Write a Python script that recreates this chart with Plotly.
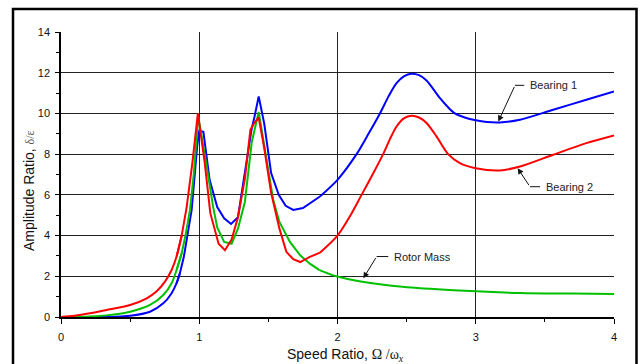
import plotly.graph_objects as go

# ---------------- data ----------------
b1_x = [0, 0.2, 0.33, 0.5, 0.644, 0.74, 0.8, 0.836, 0.86, 0.889, 0.916, 0.945, 0.97, 0.985, 1.0, 1.03,
        1.075, 1.13, 1.18, 1.23, 1.28, 1.33, 1.378, 1.40, 1.43, 1.47, 1.52, 1.575, 1.625, 1.68, 1.75,
        1.873, 2.0, 2.138, 2.22, 2.307, 2.37, 2.427, 2.48, 2.535, 2.59, 2.644, 2.69, 2.74, 2.8, 2.849,
        2.92, 3.0, 3.08, 3.174, 3.32, 3.56, 3.80, 4.0]
b1_y = [0, 0.0, 0.0, 0.06, 0.26, 0.67, 1.17, 1.66, 2.15, 2.97, 4.0, 5.26, 7.2, 8.4, 9.15, 9.1,
        6.74, 5.4, 4.85, 4.57, 4.9, 7.07, 9.2, 9.85, 10.84, 9.5, 7.07, 6.0, 5.46, 5.26, 5.35,
        5.92, 6.74, 8.0, 8.95, 10.0, 10.85, 11.49, 11.82, 11.95, 11.88, 11.62, 11.22, 10.76, 10.3, 10.0,
        9.8, 9.66, 9.58, 9.56, 9.69, 10.18, 10.67, 11.08]

b2_x = [0, 0.1, 0.21, 0.33, 0.5, 0.62, 0.69, 0.752, 0.8, 0.836, 0.873, 0.909, 0.95, 0.99,
        1.04, 1.08, 1.14, 1.186, 1.234, 1.28, 1.33, 1.37, 1.40, 1.43, 1.47, 1.52, 1.58, 1.63, 1.68,
        1.73, 1.8, 1.873, 2.0, 2.09, 2.174, 2.25, 2.33, 2.38, 2.427, 2.48, 2.535, 2.59, 2.644, 2.716,
        2.80, 2.885, 3.0, 3.174, 3.32, 3.56, 3.80, 4.0]
b2_y = [0, 0.06, 0.18, 0.34, 0.59, 0.92, 1.25, 1.74, 2.31, 2.97, 4.0, 5.4, 7.56, 10.0,
        7.56, 5.1, 3.6, 3.28, 3.8, 4.9, 6.8, 9.2, 9.55, 9.8, 8.3, 6.1, 4.34, 3.2, 2.84,
        2.7, 2.95, 3.16, 4.0, 4.95, 6.0, 6.95, 8.0, 8.75, 9.36, 9.76, 9.89, 9.8, 9.53, 8.87,
        8.0, 7.56, 7.31, 7.2, 7.39, 7.97, 8.54, 8.92]

rm_x = [0, 0.21, 0.33, 0.5, 0.644, 0.74, 0.8, 0.836, 0.873, 0.9, 0.933, 0.96, 0.993,
        1.05, 1.1, 1.13, 1.18, 1.234, 1.28, 1.33, 1.38, 1.43, 1.48, 1.535, 1.58, 1.656, 1.73,
        1.8, 1.87, 1.99, 2.19, 2.47, 2.84, 3.32, 3.7, 4.0]
rm_y = [0, 0.03, 0.08, 0.26, 0.59, 1.08, 1.66, 2.31, 3.13, 4.0, 5.26, 7.0, 9.85,
        7.56, 5.42, 4.4, 3.69, 3.6, 4.34, 5.65, 8.6, 10.07, 8.05, 5.75, 4.67, 3.69, 3.03,
        2.62, 2.3, 2.0, 1.72, 1.48, 1.31, 1.18, 1.15, 1.13]

x_ticks = [0, 1, 2, 3, 4]
y_ticks = [0, 2, 4, 6, 8, 10, 12, 14]

# label annotations: (text, head x, head y, elbow x, elbow y, leg end x)
labels = [
    ("Bearing 1", 3.163, 9.6, 3.284, 11.38, 3.351),
    ("Bearing 2", 3.303, 7.31, 3.392, 6.40, 3.465),
    ("Rotor Mass", 2.187, 1.9, 2.283, 2.97, 2.367),
]

FONT = "Arial, Liberation Sans, Helvetica, sans-serif"
SERIF = "Times New Roman, Liberation Serif, serif"


def add_series(fig, xs, ys, color, name):
    # smooth low-speed rise, straight segments through the sharp peaks, smooth high-speed part
    lo, hi = 0.86, 1.86
    seg1 = [(x, y) for x, y in zip(xs, ys) if x <= lo + 0.02]
    seg2 = [(x, y) for x, y in zip(xs, ys) if lo - 0.03 <= x <= hi + 0.02]
    seg3 = [(x, y) for x, y in zip(xs, ys) if x >= hi - 0.01]
    for seg, shape in ((seg1, "spline"), (seg2, "linear"), (seg3, "spline")):
        fig.add_trace(go.Scatter(x=[p[0] for p in seg], y=[p[1] for p in seg], mode="lines",
                                 line=dict(color=color, width=2, shape=shape, smoothing=0.8),
                                 name=name, showlegend=False))


fig = go.Figure()
add_series(fig, b1_x, b1_y, "#0000FF", "Bearing 1")
add_series(fig, rm_x, rm_y, "#00C000", "Rotor Mass")
add_series(fig, b2_x, b2_y, "#FF0000", "Bearing 2")

annotations = []
shapes = []
for text, hx, hy, ex, ey, lx in labels:
    annotations.append(dict(x=hx, y=hy, ax=ex, ay=ey, xref="x", yref="y", axref="x", ayref="y",
                            text="", showarrow=True, arrowhead=2, arrowsize=1.2, arrowwidth=1,
                            arrowcolor="#111"))
    shapes.append(dict(type="line", xref="x", yref="y", x0=ex, y0=ey, x1=lx, y1=ey,
                       line=dict(color="#111", width=1)))
    annotations.append(dict(x=lx + 0.03, y=ey, xref="x", yref="y", text=text, showarrow=False,
                            xanchor="left", yanchor="middle", font=dict(family=FONT, size=11, color="#222")))

# axis titles
annotations.append(dict(
    x=(345 - 61) / 553, y=(317 - 355) / 285, xref="paper", yref="paper",
    text=f"Speed Ratio, <span style='font-family:{SERIF}; font-size:14px'>Ω /ω<sub><i>x</i></sub></span>",
    showarrow=False, xanchor="center", yanchor="middle", font=dict(family=FONT, size=14, color="#111")))
annotations.append(dict(
    x=(29 - 61) / 553, y=(317 - 191) / 285, xref="paper", yref="paper", textangle=-90,
    text=f"Amplitude Ratio, <span style='font-family:{SERIF}; font-size:12px; fill:#555'>δ/ε</span>",
    showarrow=False, xanchor="center", yanchor="middle", font=dict(family=FONT, size=14, color="#111")))

# outer frame
shapes.append(dict(type="rect", xref="paper", yref="paper",
                   x0=(13 - 61) / 553, x1=(636.5 - 61) / 553, y0=(317 - 380) / 285, y1=(317 - 9) / 285,
                   line=dict(color="#000", width=2.5), fillcolor="rgba(0,0,0,0)", layer="above"))

fig.update_layout(
    width=640, height=364,
    margin=dict(l=61, r=26, t=32, b=47),
    paper_bgcolor="white", plot_bgcolor="white",
    showlegend=False,
    font=dict(family=FONT, size=11, color="#111"),
    annotations=annotations, shapes=shapes,
)
fig.update_xaxes(range=[0, 4], tickvals=x_ticks, ticktext=[str(v) for v in x_ticks],
                 showgrid=True, gridcolor="#222", gridwidth=1,
                 showline=True, linecolor="#000", linewidth=1.5, mirror=False,
                 ticks="outside", ticklen=5, tickcolor="#000", ticklabelstandoff=4,
                 minor=dict(dtick=0.5, tick0=0, ticks="outside", ticklen=3, tickcolor="#000", showgrid=False),
                 zeroline=False, tickfont=dict(size=11, color="#111"))
fig.update_yaxes(range=[0, 14], tickvals=y_ticks, ticktext=[str(v) for v in y_ticks],
                 showgrid=True, gridcolor="#222", gridwidth=1,
                 showline=True, linecolor="#000", linewidth=1.5, mirror=False,
                 ticks="outside", ticklen=4, tickcolor="#000", ticklabelstandoff=3,
                 minor=dict(dtick=1, tick0=0, ticks="outside", ticklen=3, tickcolor="#000", showgrid=False),
                 zeroline=False, tickfont=dict(size=11, color="#111"))

fig.write_html("out.html")
